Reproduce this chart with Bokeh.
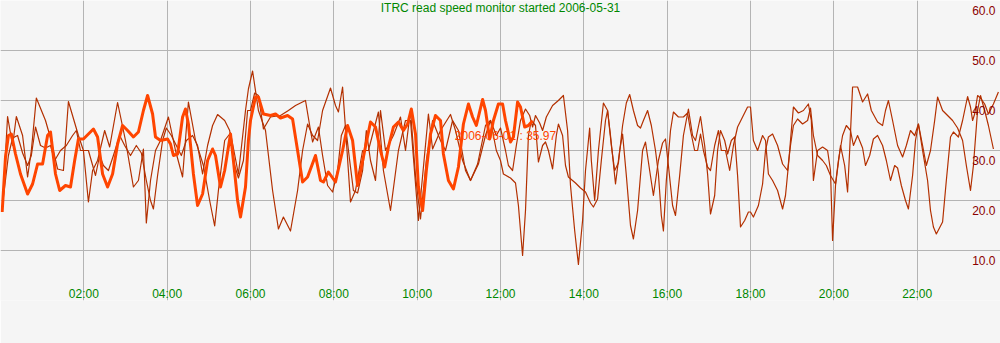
from bokeh.plotting import figure
from bokeh.models import Range1d, Grid, FixedTicker, Label, ColumnDataSource
from bokeh.core.properties import value
from bokeh.embed import file_html
from bokeh.resources import INLINE

# ---- data (hours of day, read speed) ----
today_t = [0.04,0.12,0.19,0.26,0.36,0.48,0.65,0.77,0.89,1.01,1.13,1.20,1.32,1.42,1.56,1.68,1.78,1.87,1.99,
           2.11,2.23,2.33,2.45,2.57,2.69,2.81,2.93,3.05,3.19,3.31,3.43,3.53,3.65,3.72,3.84,4.01,4.08,4.15,4.25,
           4.37,4.44,4.51,4.63,4.73,4.85,4.97,5.09,5.16,5.28,5.38,5.52,5.59,5.69,5.76,5.88,5.95,6.00,6.12,6.19,
           6.31,6.48,6.60,6.72,6.89,7.01,7.13,7.25,7.37,7.56,7.68,7.75,7.87,8.04,8.21,8.33,8.45,8.57,8.71,8.88,
           9.00,9.12,9.22,9.31,9.43,9.55,9.67,9.77,9.86,9.96,10.03,10.13,10.22,10.32,10.44,10.56,10.63,10.75,
           10.87,10.99,11.11,11.23,11.33,11.42,11.57,11.64,11.74,11.83,11.95,12.05,12.12,12.24,12.31,12.41,
           12.48,12.58,12.67,12.77]
today_v = [17.7,28.7,33,33.3,29.3,25.3,21.3,23.3,27.3,27.3,33,33.7,25.3,22,23,22.7,28,32.3,32.3,
           33.3,34.3,32.7,25.3,22.7,25.3,31.3,35,34,32.7,33.7,38,41,37.3,32.7,32,32.3,31.3,29,29.3,
           36.7,38.3,35.3,25.3,19,21.3,28,30.3,29,22.7,26,33.3,28,20,16.7,22.7,32,36,40.7,40.7,
           37.3,37,37.3,36.5,37,36.3,30,23.7,24.7,29,24,23.7,25.7,23.7,30,35,32,23,28.7,35.7,
           34.7,30,26.7,30.7,34.7,35.7,34,35.3,38.3,33.3,22.7,18,26,33.3,37,36,29.3,24,
           22.3,26.7,35.3,39.3,36.7,35,40.2,38,32.3,36,39.3,39.3,36,31.7,32.7,39.7,
           38.7,34.7,35,35.97]

day1_t = [0.07,0.17,0.29,0.38,0.53,0.65,0.74,0.86,1.08,1.20,1.37,1.51,1.63,1.87,1.99,2.11,2.21,2.33,2.50,
          2.62,2.81,3.00,3.19,3.31,3.43,3.50,3.60,3.72,3.84,4.03,4.20,4.37,4.51,4.68,4.87,5.02,5.14,5.23,
          5.38,5.52,5.71,5.88,5.95,6.05,6.19,6.36,6.53,6.67,6.79,6.96,7.13,7.25,7.37,7.49,7.61,7.73,7.92,
          8.04,8.11,8.21,8.30,8.40,8.52,8.69,8.83,9.07,9.19,9.36,9.55,9.72,9.84,10.03,10.27,10.37,10.56,
          10.80,10.92,11.09,11.28,11.45,11.64,11.76,11.90,
          12.00,12.07,12.24,12.36,12.43,12.53,12.60,12.67,12.74,12.84,12.91,13.01,13.08,13.15,13.25,13.34,
          13.39,13.49,13.56,13.63,13.80,13.92,14.04,14.16,14.23,14.33,14.42,14.52,14.57,14.64,14.76,14.86,
          14.93,15.02,15.12,15.19,15.29,15.41,15.48,15.58,15.67,15.79,15.89,15.96,16.03,16.13,16.20,16.30,
          16.39,16.51,16.61,16.68,16.80,16.90,16.97,17.04,17.14,17.21,17.28,17.38,17.45,17.54,17.62,17.69,
          17.76,17.86,17.95,
          18.00,18.07,18.19,18.29,18.36,18.43,18.53,18.65,18.77,18.89,18.96,19.03,19.13,19.25,19.37,19.44,
          19.51,19.61,19.73,19.82,19.92,20.04,20.11,20.21,20.30,20.40,20.47,20.57,20.69,20.76,20.86,20.95,
          21.05,21.17,21.26,21.36,21.46,21.53,21.62,21.72,21.79,21.89,21.96,22.03,22.13,22.22,22.32,22.42,
          22.49,22.61,22.73,22.85,22.97,23.09,23.18,23.28,23.35,23.45,23.52,23.62,23.71,23.83]
day1_v = [22,36.8,31,36.8,33,24.7,30,40.5,36,32.5,26.3,26,39.8,33,30,19.7,26,28,34,
          30.7,39.6,32,22.7,24,30.3,15.5,24,30,32,36.7,30,24.7,39.7,32,27,20,14.9,22,
          32,33.5,25.3,38,42.3,45.9,38,34,22,14.3,16.7,13.9,22,30,35.3,33,32,38,42.5,
          39,37.7,42.7,32,19.7,22,30,30,37.7,26,18,30,36,36,16,37.3,30.3,34,
          37.2,34,28,24,27.3,35,36,30,
          28,25.3,24.5,23.5,19,9,18,33,36,35,27.7,31,31.7,30,26.3,33,
          35.3,33,27,24.7,23.5,22.5,21.7,19.5,18.7,20.3,28,36,38,33,23.3,30,
          33.3,25,15,12.3,18,30,31.7,26,21,28,31.5,32.3,27,19,17,25,
          33,38.3,33,32,36.8,31,25.3,17.3,21,30,34,32,29.3,32,32.7,25,
          14.7,16,17.7,
          17.7,16.7,19,23.3,30,32.7,33.3,31,27.3,26,31,35,36.3,35.3,36,38.5,
          33,29,28,27,25,23.3,28,33,35,34,31,33,30.5,27,29,32.3,
          33,31,28,24,27,26.5,23,20,18.3,25,32,35.3,31,27,30,36,
          40.7,38,37,36,34.5,32,27,22,27,38,41,38,35,30.3]

day2_t = [0.07,0.19,0.29,0.41,0.53,0.65,0.74,0.84,0.96,1.08,1.20,1.30,1.44,1.58,1.73,1.82,1.92,2.11,2.28,
          2.38,2.47,2.59,2.71,2.86,2.98,3.12,3.26,3.38,3.50,3.60,3.67,3.77,3.89,3.98,4.10,4.22,4.34,4.46,
          4.61,4.73,4.85,4.97,5.09,5.21,5.38,5.50,5.62,5.71,5.83,5.93,6.00,6.10,6.19,6.31,6.48,6.72,6.91,
          7.08,7.20,7.32,7.44,7.49,7.63,7.73,7.85,7.97,8.09,8.18,8.28,8.38,8.47,8.57,8.69,8.78,8.88,9.00,
          9.12,9.24,9.43,9.60,9.72,9.84,9.96,10.08,10.22,10.37,10.56,10.68,10.85,10.99,11.16,11.28,11.47,
          11.64,11.76,11.90,
          12.00,12.12,12.19,12.29,12.38,12.48,12.60,12.70,12.77,12.84,12.94,13.01,13.10,13.25,13.39,13.51,
          13.61,13.68,13.78,13.87,13.97,14.04,14.14,14.18,14.26,14.35,14.47,14.57,14.66,14.74,14.83,14.93,
          15.02,15.10,15.19,15.29,15.36,15.43,15.53,15.62,15.72,15.79,15.86,15.91,15.98,16.08,16.15,16.27,
          16.39,16.49,16.56,16.66,16.73,16.80,16.87,16.97,17.04,17.14,17.23,17.30,17.40,17.50,17.59,17.69,
          17.81,17.93,
          18.00,18.07,18.17,18.29,18.36,18.43,18.53,18.65,18.77,18.84,18.91,18.98,19.03,19.15,19.27,19.39,
          19.46,19.51,19.61,19.73,19.85,19.92,19.97,20.04,20.16,20.26,20.33,20.38,20.45,20.57,20.69,20.81,
          20.90,21.05,21.17,21.24,21.31,21.41,21.53,21.65,21.74,21.84,21.94,22.03,22.13,22.25,22.32,22.39,
          22.46,22.61,22.70,22.80,22.87,22.99,23.09,23.21,23.28,23.33,23.38,23.45,23.52,23.62,23.71,23.83,
          23.95]
day2_v = [20.7,29,32.5,33,29.5,27,29,34.7,31,30.5,31,28,30,31,33,34,30,30,25,
          29,27,26,29,33,31,29,31,29.5,24,20,18.3,25,32,34.5,33,31,29,32,
          33,31,25.3,31,35,37.2,36,34,27,24.5,28,38,38,41.5,41,34.3,36.7,37,38,
          39,39.5,40,34,31.7,34.7,29,23,21.7,26,33,35,28,22,21.5,26,34,28,24,
          38,30,33,36.7,30,38,25,16.3,28,36,32,30,36,34,26,24,27.3,
          33,36,33,
          34.5,30,27,26,31,36,38.3,37,34.7,37,35.5,34,36.7,39,40,41,
          34,23,14,7.2,16,26,34.5,28,20,30,39.5,38,31,26,27.5,35,
          39.5,41.2,38,35,34.5,36,38,35,30,25.3,17,13.9,24,34,37.7,36.7,
          36.7,37.5,34,30,30,33.3,30,26.7,26,31,34,30,30,26,31,34.7,
          36.7,38.7,
          38.7,32,30,33,32,25.3,24,22,18.3,21,27,34,38.7,37.5,38,39.3,
          36,24,30,30.7,30,26,12,23,31,27,21.7,30,42.7,42.7,39.7,41.3,
          38,35.7,35,38,40,36,31,28.7,31,34,33,35.3,30,24,18,14.7,
          13.3,15.7,24,32.7,33.7,32.7,36,40.8,38.7,36,37.3,41,40.5,39.3,37.3,39.3,
          41.7]

hour_ticks = [2, 4, 6, 8, 10, 12, 14, 16, 18, 20, 22]
hour_labels = ["02:00", "04:00", "06:00", "08:00", "10:00", "12:00",
               "14:00", "16:00", "18:00", "20:00", "22:00"]
speed_ticks = [60, 50, 40, 30, 20, 10]
speed_labels = ["60.0", "50.0", "40.0", "30.0", "20.0", "10.0"]

title_text = "ITRC read speed monitor started 2006-05-31"
host_text = "HP 9000/800/A500-7X"
last_text = "2006-06-01 : 35.97"

BG = "#f5f5f5"
GRID = "#b4b4b4"
THIN = "#b33000"
THICK = "#ff4500"
GREEN = "#008800"
DARKRED = "#8b0000"
FONT = "Liberation Sans"

p = figure(width=1000, height=343, x_range=Range1d(0, 24), y_range=Range1d(0, 60),
           x_axis_type=None, y_axis_type=None, toolbar_location=None,
           output_backend="svg", min_border_left=0, min_border_right=0,
           min_border_top=0, min_border_bottom=43)
p.background_fill_color = BG
p.border_fill_color = BG
p.outline_line_color = None

p.add_layout(Grid(dimension=0, ticker=FixedTicker(ticks=hour_ticks),
                  grid_line_color=GRID, grid_line_width=1))
p.add_layout(Grid(dimension=1, ticker=FixedTicker(ticks=[10, 20, 30, 40, 50]),
                  grid_line_color=GRID, grid_line_width=1))

p.line(day1_t, day1_v, line_color=THIN, line_width=1.2, line_join="round")
p.line(day2_t, day2_v, line_color=THIN, line_width=1.2, line_join="round")
p.line(today_t, today_v, line_color=THICK, line_width=3, line_join="round")

# tick labels
src_x = ColumnDataSource(dict(x=hour_ticks, y=[1.4] * len(hour_ticks), t=hour_labels))
p.text(x="x", y="y", text="t", source=src_x, text_color=GREEN, text_align="center",
       text_baseline="middle", text_font=value(FONT), text_font_size="12px")
src_y = ColumnDataSource(dict(x=[23.88] * len(speed_ticks), y=[v - 2 for v in speed_ticks], t=speed_labels))
p.text(x="x", y="y", text="t", source=src_y, text_color=DARKRED, text_align="right",
       text_baseline="middle", text_font=value(FONT), text_font_size="12px")

# last value annotation
p.add_layout(Label(x=12.12, y=33.0, text=last_text, text_color=THICK,
                   text_font=FONT, text_font_size="12px", text_baseline="middle",
                   text_align="center"))

p.add_layout(Label(x=12, y=58.6, text=title_text, text_color=GREEN, text_font=FONT,
                   text_font_size="12px", text_align="center", text_baseline="middle"))
p.add_layout(Label(x=11.98, y=-4.4, text=host_text, text_color="#000000",
                   text_font="DejaVu Sans Mono", text_font_size="15px",
                   text_align="center", text_baseline="middle"))

open("out.html", "w").write(file_html(p, INLINE))
